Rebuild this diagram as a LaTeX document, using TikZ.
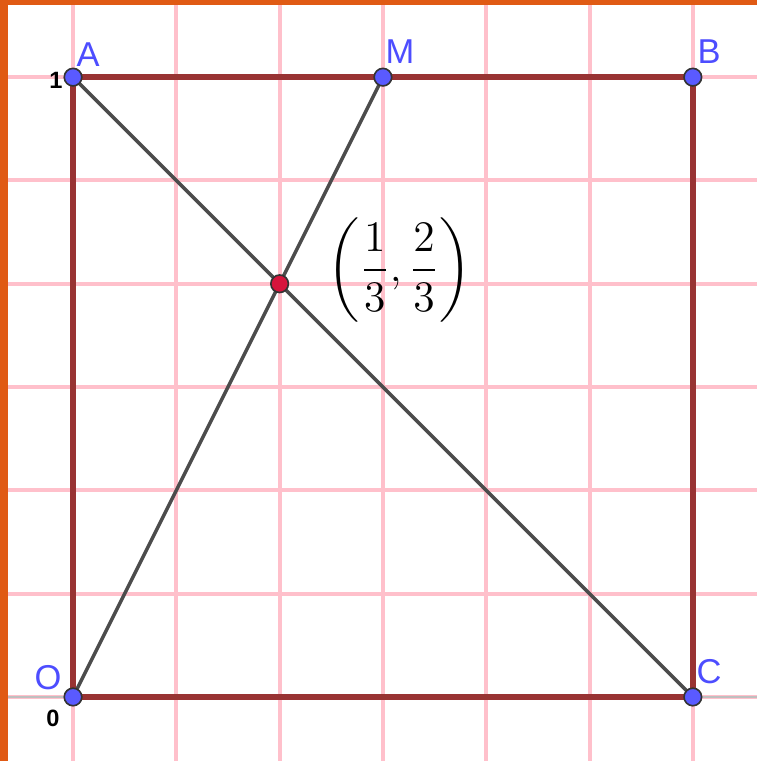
\documentclass[tikz,border=0pt]{standalone}
\usepackage{amsmath}
\usepackage{fontspec}
\setsansfont{Liberation Sans}
\usepackage{tikz}

\definecolor{gridpink}{RGB}{255,192,203}
\definecolor{sqred}{RGB}{153,51,51}
\definecolor{ptblue}{RGB}{90,90,255}
\definecolor{lblblue}{RGB}{77,77,255}
\definecolor{ptred}{RGB}{214,20,60}
\definecolor{frameorange}{RGB}{224,90,20}

\begin{document}
\begin{tikzpicture}[>=stealth,
    gridline/.style={gridpink, line width=1.1pt},
    side/.style={sqred, line width=1.6pt},
    segm/.style={black!70, line width=0.95pt},
    bluept/.style={circle, fill=ptblue, draw=black!80, line width=0.45pt, inner sep=0pt, minimum size=0.17cm},
    redpt/.style={circle, fill=ptred, draw=black!80, line width=0.45pt, inner sep=0pt, minimum size=0.17cm},
    ptlabel/.style={text=lblblue, font=\sffamily\fontsize{9.5}{10}\selectfont},
    ticklabel/.style={text=black, font=\sffamily\bfseries\fontsize{6.5}{7}\selectfont}]

        \useasboundingbox (-0.707,-0.62) rectangle (6.62,6.747);
        \fill[white] (-0.707,-0.62) rectangle (6.62,6.747);

        % GRID
        \foreach \k in {0,...,6} {
            \draw[gridline] (\k,-0.62) -- (\k,6.70);
            \draw[gridline] (-0.63,\k) -- (6.62,\k);
        }
        \draw[black!25, line width=0.4pt] (-0.63,0) -- (6.62,0);

        % ORANGE FRAME
        \fill[frameorange] (-0.707,-0.62) rectangle (-0.63,6.747);
        \fill[frameorange] (-0.707,6.70) rectangle (6.62,6.747);

        % POINTS
        \coordinate (O) at (0,0);
        \coordinate (A) at (0,6);
        \coordinate (B) at (6,6);
        \coordinate (C) at (6,0);
        \coordinate (M) at (3,6);
        \coordinate (P) at (2,4);

        % SQUARE AND SEGMENTS
        \draw[segm] (A) -- (C);
        \draw[segm] (O) -- (M);
        \draw[side] (O) -- (A) -- (B) -- (C) -- cycle;

        \node[bluept] (dO) at (O) {};
        \node[bluept] (dA) at (A) {};
        \node[bluept] (dB) at (B) {};
        \node[bluept] (dC) at (C) {};
        \node[bluept] (dM) at (M) {};
        \node[redpt] (dP) at (P) {};

        % LABELS
        \node[ptlabel] (lA) at (0.145,6.215) {A};
        \node[ptlabel] (lM) at (3.166,6.244) {M};
        \node[ptlabel] (lB) at (6.157,6.244) {B};
        \node[ptlabel] (lO) at (-0.242,0.184) {O};
        \node[ptlabel] (lC) at (6.157,0.242) {C};
        \node[ticklabel] (one) at (-0.165,5.973) {1};
        \node[ticklabel] (zero) at (-0.194,-0.203) {0};

        \node[font=\large] (coords) at (3.16,4.13) {$\displaystyle\left(\frac{1}{3},\frac{2}{3}\right)$};
    \end{tikzpicture}
\end{document}
